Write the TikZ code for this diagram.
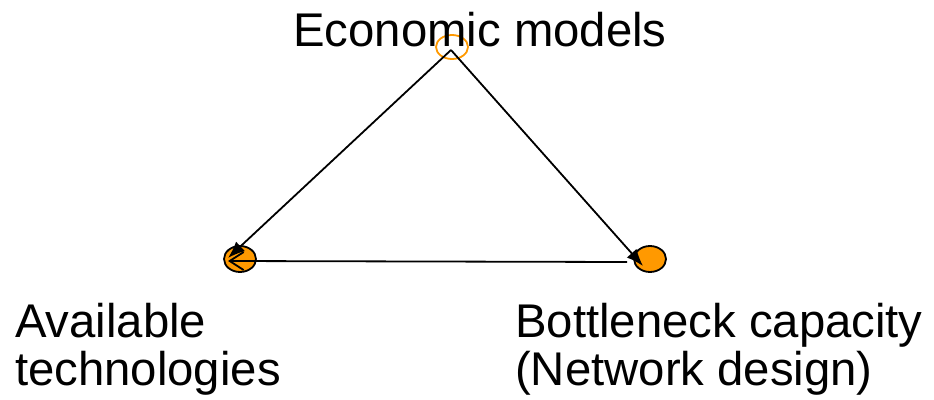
\documentclass[tikz,border=0pt]{standalone}
\usepackage{fontspec}
\setmainfont{Liberation Sans}
\usepackage{tikz}
\usetikzlibrary{arrows.meta,shapes.geometric}
\definecolor{pptorange}{HTML}{FF9900}

\begin{document}
\begin{tikzpicture}[x=1pt,y=-1pt,
    lbl/.style={inner sep=0pt, font=\fontsize{47.3}{48}\selectfont},
    dot/.style={ellipse, draw=black, fill=pptorange, line width=1.8pt,
      minimum width=32pt, minimum height=26pt, inner sep=0pt},
    link/.style={line width=1.8pt},
    filltip/.style={-{Latex[length=17pt,width=13pt]}},
    opentip/.style={-{Straight Barb[length=14pt,width=18pt,line width=1.8pt]}}]
\useasboundingbox (0,0) rectangle (934,399);
% three corners of the triangle
\node[ellipse, draw=pptorange, line width=1.8pt, minimum width=32pt,
  minimum height=24pt, inner sep=0pt] (econ) at (452,47) {};
\node[dot] (tech) at (240,259) {};
\node[dot] (neck) at (650,259) {};
% labels
\node[lbl, anchor=base] (econlbl) at (480,46) {Economic models};
\node[lbl, anchor=base west, align=left] (techlbl) at (15,385) {Available\\technologies};
\node[lbl, anchor=base west, align=left] (necklbl) at (515,385) {Bottleneck capacity\\(Network design)};
% arrows
\coordinate (apex) at (451,50);
\coordinate (techtip) at (228,258);
\coordinate (necktip) at (643,266);
\coordinate (hstart) at (627,262);
\coordinate (htip) at (228,261);
\draw[link, filltip] (apex) -- (techtip);
\draw[link, filltip] (apex) -- (necktip);
\draw[link, opentip] (hstart) -- (htip);
\end{tikzpicture}
\end{document}
